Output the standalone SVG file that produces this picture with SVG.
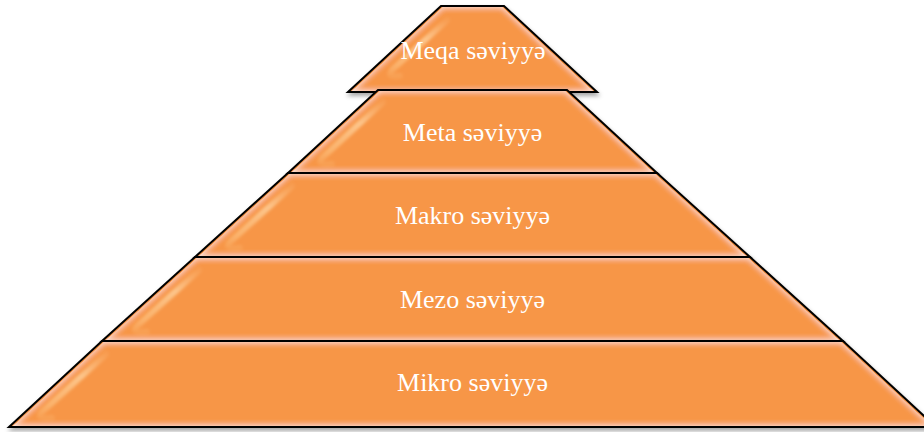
<svg xmlns="http://www.w3.org/2000/svg" width="924" height="432" viewBox="0 0 924 432">
  <style>
    .layer { fill: #F79646; stroke: #000; stroke-width: 2; stroke-linejoin: miter; filter: url(#bevel); }
    .streak { fill: none; stroke: url(#streakGrad); stroke-width: 6; stroke-linecap: round; filter: url(#soft); }
    .label { font-family: "Liberation Serif", "Times New Roman", serif; font-size: 26px; fill: #FFFFFF; text-anchor: middle; }
  </style>
  <defs>
    <linearGradient id="streakGrad" x1="0" y1="0" x2="0" y2="1">
      <stop offset="0" stop-color="#FFD9A8" stop-opacity="0.1"/>
      <stop offset="0.35" stop-color="#FFD9A8" stop-opacity="0.7"/>
      <stop offset="0.8" stop-color="#FFCF90" stop-opacity="0.5"/>
      <stop offset="1" stop-color="#FFCF90" stop-opacity="0.15"/>
    </linearGradient>
    <filter id="soft" x="-20%" y="-20%" width="140%" height="140%">
      <feGaussianBlur stdDeviation="1.4"/>
    </filter>
    <filter id="bevel" x="-5%" y="-10%" width="110%" height="125%">
      <feGaussianBlur in="SourceAlpha" stdDeviation="2" result="sb"/>
      <feOffset in="sb" dx="1" dy="3" result="so"/>
      <feFlood flood-color="#000" flood-opacity="0.35"/>
      <feComposite in2="so" operator="in" result="shadow"/>
      <feMorphology in="SourceAlpha" operator="erode" radius="2" result="er"/>
      <feGaussianBlur in="er" stdDeviation="3" result="erb"/>
      <feComposite in="er" in2="erb" operator="arithmetic" k2="1" k3="-1" result="rim"/>
      <feFlood flood-color="#FFFFFF" flood-opacity="0.75"/>
      <feComposite in2="rim" operator="in" result="rimc"/>
      <feMerge>
        <feMergeNode in="shadow"/>
        <feMergeNode in="SourceGraphic"/>
        <feMergeNode in="rimc"/>
      </feMerge>
    </filter>
  </defs>

  <g id="meqa">
    <polygon class="layer" points="441,6 504,6 597,92 348,92"/>
    <path class="streak" d="M 447,20 L 392,70 Q 386,78 400,76"/>
    <text class="label" x="473" y="59">Meqa səviyyə</text>
  </g>

  <g id="meta">
    <polygon class="layer" points="378,90 567,90 657,173 288,173"/>
    <path class="streak" d="M 383,102 L 322,158 Q 316,166 332,164"/>
    <text class="label" x="472.5" y="141">Meta səviyyə</text>
  </g>

  <g id="makro">
    <polygon class="layer" points="288,173 657,173 750,257 195,257"/>
    <path class="streak" d="M 292,186 L 230,242 Q 223,250 240,248"/>
    <text class="label" x="472.5" y="224">Makro səviyyə</text>
  </g>

  <g id="mezo">
    <polygon class="layer" points="195,257 750,257 843,341 102,341"/>
    <path class="streak" d="M 199,270 L 137,326 Q 130,334 147,332"/>
    <text class="label" x="472.5" y="308">Mezo səviyyə</text>
  </g>

  <g id="mikro">
    <polygon class="layer" points="102,341 843,341 936,427 9,427"/>
    <path class="streak" d="M 106,354 L 42,412 Q 35,420 52,418"/>
    <text class="label" x="472.5" y="391">Mikro səviyyə</text>
  </g>
</svg>
